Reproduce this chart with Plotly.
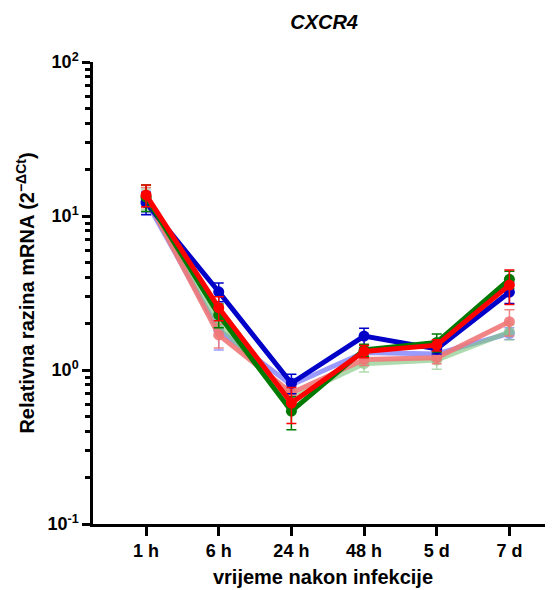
import plotly.graph_objects as go

categories = ["1 h", "6 h", "24 h", "48 h", "5 d", "7 d"]

light_blue = [12.5, 1.82, 0.80, 1.30, 1.27, 1.73]
light_blue_err = [2.0, 0.47, 0.08, 0.10, 0.10, 0.15]
light_green = [13.0, 1.96, 0.66, 1.10, 1.16, 1.77]
light_green_err = [2.0, 0.30, 0.08, 0.13, 0.15, 0.20]
pink = [13.3, 1.69, 0.71, 1.17, 1.20, 2.06]
pink_err = [2.0, 0.30, 0.08, 0.10, 0.10, 0.40]
blue = [12.2, 3.22, 0.82, 1.66, 1.37, 3.20]
blue_err = [2.0, 0.45, 0.12, 0.21, 0.10, 0.50]
green = [13.3, 2.28, 0.54, 1.35, 1.51, 3.88]
green_err = [2.6, 0.40, 0.13, 0.12, 0.20, 0.50]
red = [13.7, 2.54, 0.61, 1.32, 1.45, 3.56]
red_err = [2.2, 0.45, 0.16, 0.12, 0.12, 0.90]

series = [
    (light_blue, light_blue_err, "rgba(120,120,255,0.75)"),
    (light_green, light_green_err, "rgba(130,200,130,0.65)"),
    (pink, pink_err, "rgba(240,120,120,0.9)"),
    (blue, blue_err, "#0000C8"),
    (green, green_err, "#007A00"),
    (red, red_err, "#FF0000"),
]

fig = go.Figure()
for vals, errs, col in series:
    fig.add_trace(go.Scatter(
        x=categories, y=vals, mode="lines+markers",
        line=dict(color=col, width=5),
        marker=dict(color=col, size=11, symbol="circle"),
        error_y=dict(type="data", array=errs, visible=True, color=col,
                     thickness=1.5, width=5),
        showlegend=False,
    ))

minor_vals = [m * 10 ** e for e in (-1, 0, 1) for m in range(2, 10)]

# the page body has an 8px margin, so the figure is sized/offset to compensate
fig.update_layout(
    width=545, height=582,
    margin=dict(l=85, r=0, t=54, b=66, autoexpand=False),
    plot_bgcolor="white", paper_bgcolor="white",
    font=dict(family="Liberation Sans, Arial, sans-serif", color="black"),
    title=dict(text="<b><i>CXCR4</i></b>", x=0.58, xanchor="center",
               y=0.976, yanchor="middle", font=dict(size=20, color="black")),
    xaxis=dict(
        type="category", range=[-0.73, 5.6], automargin=False,
        showline=True, linecolor="black", linewidth=2.5,
        ticks="outside", ticklen=9, tickwidth=2.5, tickcolor="black",
        showgrid=False, zeroline=False,
        tickfont=dict(size=18, color="black", family="Liberation Sans"),
        tickprefix="<b>", ticksuffix="</b>",
        title=dict(text="<b>vrijeme nakon infekcije</b>", font=dict(size=20), standoff=10),
    ),
    yaxis=dict(
        type="log", range=[-1, 2], automargin=False,
        showline=True, linecolor="black", linewidth=2.5,
        ticks="outside", ticklen=8, tickwidth=2.5, tickcolor="black",
        tickvals=[0.1, 1, 10, 100],
        ticktext=["<b>10<sup>-1</sup></b>", "<b>10<sup>0</sup></b>",
                  "<b>10<sup>1</sup></b>", "<b>10<sup>2</sup></b>"],
        tickfont=dict(size=18, color="black"),
        minor=dict(tickvals=minor_vals, ticks="outside", ticklen=5,
                   tickwidth=2.5, tickcolor="black", showgrid=False),
        showgrid=False, zeroline=False,
        title=dict(text="<b>Relativna razina mRNA (2<sup>−ΔCt</sup>)</b>",
                   font=dict(size=20), standoff=8),
    ),
)

fig.write_html("out.html")
